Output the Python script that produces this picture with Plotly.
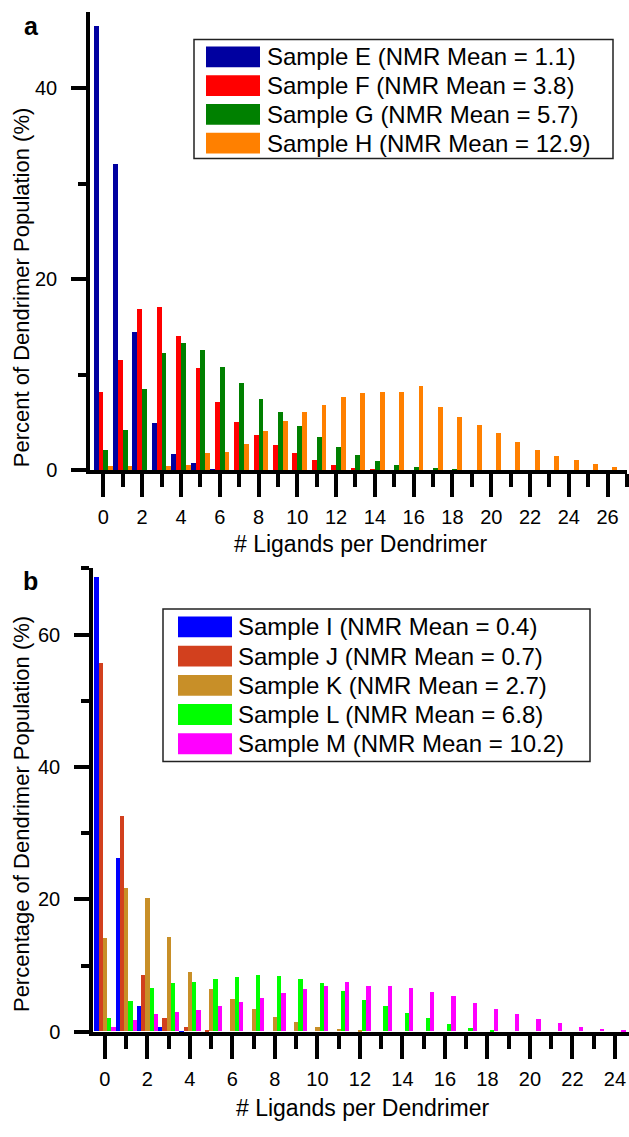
import plotly.graph_objects as go

W, H = 629, 1137

# ---------------- data ----------------
x_top = list(range(27))
top_names = ["Sample E (NMR Mean = 1.1)", "Sample F (NMR Mean = 3.8)",
             "Sample G (NMR Mean = 5.7)", "Sample H (NMR Mean = 12.9)"]
top_colors = ["#0000A0", "#FF0000", "#008000", "#FF8000"]
sample_E = [46.5, 32.1, 14.5, 5.0, 1.7, 0.75, 0.1, 0, 0, 0, 0, 0, 0, 0, 0, 0, 0, 0, 0, 0, 0, 0, 0, 0, 0, 0, 0]
sample_F = [8.2, 11.6, 16.9, 17.1, 14.1, 10.7, 7.2, 5.1, 3.7, 2.7, 1.8, 1.15, 0.6, 0.3, 0.15, 0.05, 0, 0, 0, 0, 0, 0, 0, 0, 0, 0, 0]
sample_G = [2.15, 4.2, 8.5, 12.3, 13.4, 12.6, 10.8, 9.2, 7.5, 6.1, 4.7, 3.5, 2.5, 1.6, 1.0, 0.62, 0.42, 0.24, 0.1, 0, 0, 0, 0, 0, 0, 0, 0]
sample_H = [0.45, 0.45, 0.0, 0.5, 0.55, 1.8, 1.95, 2.8, 4.1, 5.15, 6.15, 6.9, 7.65, 8.1, 8.25, 8.25, 8.9, 6.65, 5.65, 4.75, 3.9, 3.0, 2.15, 1.55, 1.05, 0.65, 0.4]

x_bot = list(range(25))
bot_names = ["Sample I (NMR Mean = 0.4)", "Sample J (NMR Mean = 0.7)",
             "Sample K (NMR Mean = 2.7)", "Sample L (NMR Mean = 6.8)",
             "Sample M (NMR Mean = 10.2)"]
bot_colors = ["#0000FF", "#D2401E", "#C88F28", "#00FF00", "#FF00FF"]
sample_I = [68.7, 26.2, 3.9, 0.75, 0.05, 0, 0, 0, 0, 0, 0, 0, 0, 0, 0, 0, 0, 0, 0, 0, 0, 0, 0, 0, 0]
sample_J = [55.6, 32.5, 8.6, 2.1, 0.65, 0.1, 0, 0, 0, 0, 0, 0, 0, 0, 0, 0, 0, 0, 0, 0, 0, 0, 0, 0, 0]
sample_K = [14.1, 21.7, 20.1, 14.2, 9.05, 6.4, 4.9, 3.4, 2.2, 1.45, 0.75, 0.35, 0.1, 0, 0, 0, 0, 0, 0, 0, 0, 0, 0, 0, 0]
sample_L = [2.1, 4.6, 6.6, 7.3, 7.4, 8.0, 8.3, 8.5, 8.4, 8.0, 7.3, 6.1, 4.7, 3.8, 2.8, 2.0, 1.1, 0.5, 0.1, 0, 0, 0, 0, 0, 0]
sample_M = [0.7, 1.75, 2.6, 3.0, 3.2, 3.9, 4.4, 5.1, 5.8, 6.4, 6.9, 7.4, 6.9, 6.85, 6.6, 6.0, 5.4, 4.3, 3.4, 2.6, 1.85, 1.25, 0.7, 0.4, 0.2]

top_series = [sample_E, sample_F, sample_G, sample_H]
bot_series = [sample_I, sample_J, sample_K, sample_L, sample_M]

FONT = "Arial, Liberation Sans, sans-serif"


def px(x):
    return x / W


def py(y):
    return 1 - y / H


fig = go.Figure()
for name, col, ys in zip(top_names, top_colors, top_series):
    fig.add_trace(go.Bar(x=x_top, y=ys, name=name, marker_color=col,
                         marker_line_width=0, xaxis="x", yaxis="y",
                         showlegend=False))
for name, col, ys in zip(bot_names, bot_colors, bot_series):
    fig.add_trace(go.Bar(x=x_bot, y=ys, name=name, marker_color=col,
                         marker_line_width=0, xaxis="x2", yaxis="y2",
                         showlegend=False))

axis_common = dict(showline=True, linewidth=3.5, linecolor="black", mirror=False,
                   ticks="outside", tickwidth=3.5, tickcolor="black",
                   showgrid=False, zeroline=False,
                   tickfont=dict(family=FONT, size=20, color="black"))

minor_x = dict(tickmode="linear", tick0=1, dtick=2, ticklen=13,
               tickwidth=3.5, tickcolor="black", ticks="outside")
minor_y = dict(tickmode="linear", tick0=10, dtick=20, ticklen=8,
               tickwidth=3.5, tickcolor="black", ticks="outside")

fig.update_layout(
    width=W, height=H,
    margin=dict(l=0, r=0, t=0, b=0),
    paper_bgcolor="white", plot_bgcolor="white",
    barmode="group", bargap=0, bargroupgap=0,
    font=dict(family=FONT, color="black"),
    xaxis=dict(domain=[px(90), px(627)], anchor="y", range=[-0.69, 27.0],
               tickmode="linear", tick0=0, dtick=2, ticklen=23,
               ticklabelstandoff=3, minor=minor_x, **axis_common),
    yaxis=dict(domain=[py(475), py(12)], anchor="x", range=[0, 48],
               tickmode="linear", tick0=0, dtick=20, ticklen=15,
               ticklabelstandoff=10, minor=minor_y, **axis_common),
    xaxis2=dict(domain=[px(93), px(629)], anchor="y2", range=[-0.56, 24.66],
                tickmode="linear", tick0=0, dtick=2, ticklen=23,
                ticklabelstandoff=3, minor=minor_x, **axis_common),
    yaxis2=dict(domain=[py(1042), py(574)], anchor="x2", range=[0, 70],
                tickmode="linear", tick0=0, dtick=20, ticklen=15,
                ticklabelstandoff=10, minor=minor_y, **axis_common),
)

shapes = []
annotations = []


def legend(names, colors, box, row0, dy, sw_x0, sw_x1, text_x, sw_h=21):
    bx0, by0, bx1, by1 = box
    shapes.append(dict(type="rect", xref="paper", yref="paper",
                       x0=px(bx0), x1=px(bx1), y0=py(by1), y1=py(by0),
                       line=dict(color="#222", width=1.5), fillcolor="white",
                       layer="above"))
    for i, (n, c) in enumerate(zip(names, colors)):
        cy = row0 + i * dy
        shapes.append(dict(type="rect", xref="paper", yref="paper",
                           x0=px(sw_x0), x1=px(sw_x1),
                           y0=py(cy + sw_h / 2), y1=py(cy - sw_h / 2),
                           line=dict(width=0), fillcolor=c, layer="above"))
        annotations.append(dict(xref="paper", yref="paper", x=px(text_x), y=py(cy),
                                text=n, showarrow=False, xanchor="left",
                                yanchor="middle",
                                font=dict(family=FONT, size=24, color="black")))


legend(top_names, top_colors, (194, 40, 613, 160), 57.5, 29, 206, 260, 265)
legend(bot_names, bot_colors, (163, 615, 590, 769), 633, 29.5, 178, 232, 236)

# axis titles and panel labels
annotations += [
    dict(xref="paper", yref="paper", x=px(360), y=py(549), text="# Ligands per Dendrimer",
         showarrow=False, xanchor="center", yanchor="middle",
         font=dict(family=FONT, size=23, color="black")),
    dict(xref="paper", yref="paper", x=px(362), y=py(1119), text="# Ligands per Dendrimer",
         showarrow=False, xanchor="center", yanchor="middle",
         font=dict(family=FONT, size=23, color="black")),
    dict(xref="paper", yref="paper", x=px(21), y=py(290), text="Percent of Dendrimer Population (%)",
         showarrow=False, xanchor="center", yanchor="middle", textangle=-90,
         font=dict(family=FONT, size=22, color="black")),
    dict(xref="paper", yref="paper", x=px(21), y=py(822), text="Percentage of Dendrimer Population (%)",
         showarrow=False, xanchor="center", yanchor="middle", textangle=-90,
         font=dict(family=FONT, size=22, color="black")),
    dict(xref="paper", yref="paper", x=px(31), y=py(26), text="<b>a</b>",
         showarrow=False, xanchor="center", yanchor="middle",
         font=dict(family=FONT, size=25, color="black")),
    dict(xref="paper", yref="paper", x=px(30), y=py(587), text="<b>b</b>",
         showarrow=False, xanchor="center", yanchor="middle",
         font=dict(family=FONT, size=25, color="black")),
]

fig.update_layout(shapes=shapes, annotations=annotations)
fig.write_html("out.html")
